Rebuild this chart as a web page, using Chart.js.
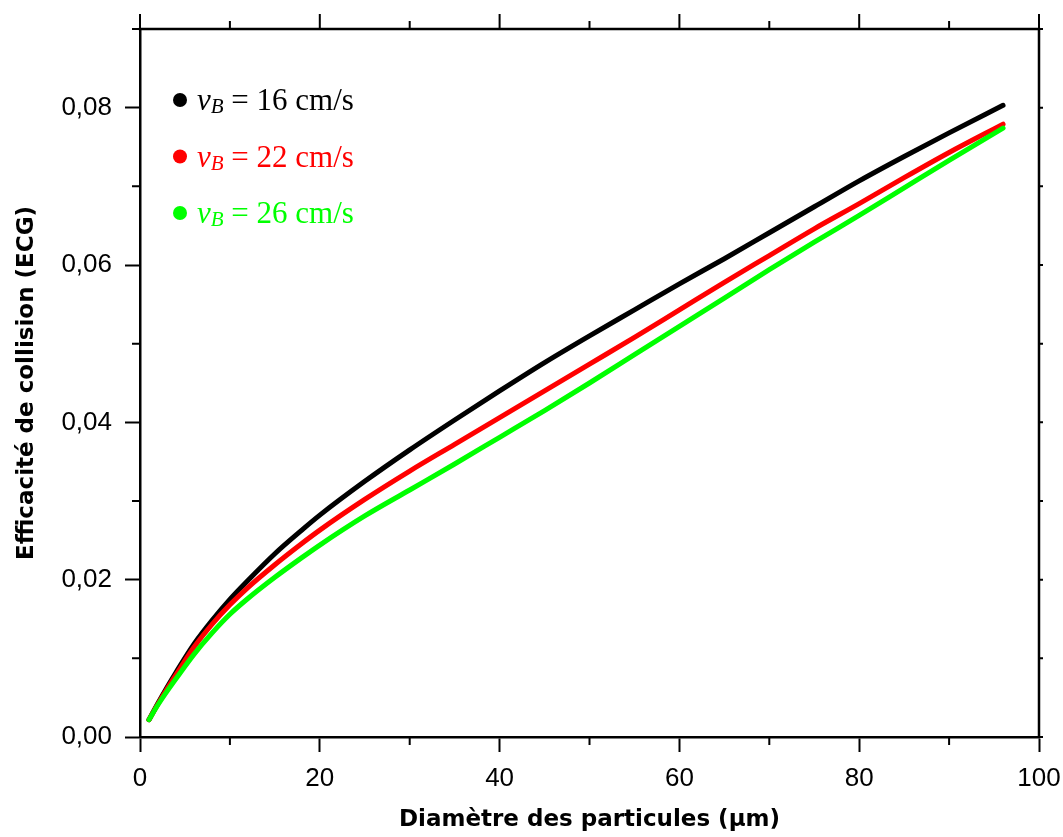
<!DOCTYPE html>
<html>
<head>
<meta charset="utf-8">
<script src="https://cdn.jsdelivr.net/npm/chart.js@4.4.1/dist/chart.umd.min.js"></script>
<style>
  html, body { margin: 0; padding: 0; background: #ffffff; }
  #wrap { width: 1063px; height: 837px; }
</style>
</head>
<body>
<div id="wrap"><canvas id="c" width="1063" height="837"></canvas></div>
<script>
// Particle diameter (µm)
const diameters = [1, 2, 3, 4, 6, 8, 10, 12, 15, 18, 20, 25, 30, 35, 40, 45, 50, 55, 60, 65, 70, 75, 80, 85, 90, 96];
// Collision efficiency for bubble velocity 16, 22 and 26 cm/s
const ecg16 = [0.0022, 0.0043, 0.0063, 0.0082, 0.0118, 0.0148, 0.0175, 0.0199, 0.0233, 0.0263, 0.0282, 0.0325, 0.0365, 0.0403, 0.0440, 0.0476, 0.0510, 0.0543, 0.0576, 0.0608, 0.0641, 0.0674, 0.0707, 0.0738, 0.0768, 0.0803];
const ecg22 = [0.0022, 0.0042, 0.0061, 0.0079, 0.0114, 0.0143, 0.0168, 0.0190, 0.0219, 0.0246, 0.0263, 0.0302, 0.0338, 0.0372, 0.0406, 0.0440, 0.0474, 0.0508, 0.0543, 0.0578, 0.0612, 0.0646, 0.0678, 0.0711, 0.0743, 0.0779];
const ecg26 = [0.0022, 0.0041, 0.0058, 0.0074, 0.0105, 0.0132, 0.0156, 0.0176, 0.0203, 0.0228, 0.0244, 0.0281, 0.0314, 0.0347, 0.0381, 0.0415, 0.0450, 0.0486, 0.0522, 0.0558, 0.0594, 0.0629, 0.0663, 0.0698, 0.0733, 0.0774];
const speeds = [16, 22, 26];
const seriesColors = ['#000000', '#ff0000', '#00ff00'];

// Axis ticks
const xMajor = [0, 20, 40, 60, 80, 100];
const xMinor = [10, 30, 50, 70, 90];
const yMajor = [0, 0.02, 0.04, 0.06, 0.08];
const yMinor = [0.01, 0.03, 0.05, 0.07, 0.09];

const series = [ecg16, ecg22, ecg26];

const datasets = series.map((vals, i) => ({
  label: 'vB = ' + speeds[i] + ' cm/s',
  data: diameters.map((d, k) => ({ x: d, y: vals[k] })),
  borderColor: seriesColors[i],
  backgroundColor: seriesColors[i],
  borderWidth: 5,
  borderCapStyle: 'round',
  borderJoinStyle: 'round',
  pointRadius: 0,
  cubicInterpolationMode: 'monotone',
  fill: false,
  order: series.length - i
}));

// Frame on top/right, minor ticks, and the in-plot legend
const framePlugin = {
  id: 'frame',
  afterDraw(chart) {
    const { ctx, chartArea: a, scales: { x, y } } = chart;
    ctx.save();
    ctx.strokeStyle = '#000';
    ctx.lineCap = 'butt';
    // top and right frame lines
    ctx.lineWidth = 2.5;
    ctx.beginPath();
    ctx.moveTo(a.left - 1.25, a.top);
    ctx.lineTo(a.right + 1.25, a.top);
    ctx.moveTo(a.right, a.top);
    ctx.lineTo(a.right, a.bottom);
    ctx.stroke();

    ctx.lineWidth = 2;
    ctx.beginPath();
    // top ticks
    xMajor.forEach(v => { const px = x.getPixelForValue(v); ctx.moveTo(px, a.top); ctx.lineTo(px, a.top - 15); });
    xMinor.forEach(v => { const px = x.getPixelForValue(v); ctx.moveTo(px, a.top); ctx.lineTo(px, a.top - 8); });
    // bottom minor ticks
    xMinor.forEach(v => { const px = x.getPixelForValue(v); ctx.moveTo(px, a.bottom); ctx.lineTo(px, a.bottom + 8); });
    // left minor ticks
    yMinor.forEach(v => { const py = y.getPixelForValue(v); ctx.moveTo(a.left, py); ctx.lineTo(a.left - 8, py); });
    // right ticks
    yMajor.concat(yMinor).forEach(v => { const py = y.getPixelForValue(v); ctx.moveTo(a.right, py); ctx.lineTo(a.right + 4, py); });
    ctx.stroke();

    // legend
    const x0 = a.left + 40;
    const y0 = a.top + 71;
    const step = 56.5;
    chart.data.datasets.forEach((ds, i) => {
      const cy = y0 + i * step;
      const base = cy + 10;
      ctx.fillStyle = ds.borderColor;
      ctx.beginPath();
      ctx.arc(x0, cy, 7, 0, Math.PI * 2);
      ctx.fill();
      ctx.textBaseline = 'alphabetic';
      ctx.textAlign = 'left';
      let tx = x0 + 17;
      ctx.font = 'italic 31px "Liberation Serif"';
      ctx.fillText('v', tx, base);
      tx += ctx.measureText('v').width;
      ctx.font = 'italic 21px "Liberation Serif"';
      ctx.fillText('B', tx, base + 3);
      tx += ctx.measureText('B').width;
      ctx.font = '31px "Liberation Serif"';
      ctx.fillText(' = ' + speeds[i] + ' cm/s', tx, base);
    });
    ctx.restore();
  }
};

new Chart(document.getElementById('c'), {
  type: 'line',
  data: { datasets },
  plugins: [framePlugin],
  options: {
    responsive: false,
    animation: false,
    devicePixelRatio: 1,
    layout: { padding: { top: 29, right: 24, left: 0, bottom: 0 } },
    plugins: { legend: { display: false }, tooltip: { enabled: false } },
    scales: {
      x: {
        type: 'linear',
        position: 'bottom',
        min: 0,
        max: 100,
        afterBuildTicks: s => { s.ticks = xMajor.map(v => ({ value: v })); },
        afterFit: s => { s.height = 100; s.paddingLeft = 0; s.paddingRight = 0; },
        ticks: {
          color: '#000',
          font: { family: '"Liberation Sans", Arial, sans-serif', size: 26 },
          padding: 11,
          maxRotation: 0,
          autoSkip: false
        },
        grid: { drawOnChartArea: false, drawTicks: true, tickLength: 15, tickWidth: 2, tickColor: '#000' },
        border: { display: true, color: '#000', width: 2.5 },
        title: {
          display: true,
          text: 'Diamètre des particules (µm)',
          color: '#000',
          font: { family: '"DejaVu Sans", sans-serif', size: 23, weight: 'bold' },
          padding: { top: 0, bottom: 3 }
        }
      },
      y: {
        type: 'linear',
        position: 'left',
        min: 0,
        max: 0.09,
        afterBuildTicks: s => { s.ticks = yMajor.map(v => ({ value: v })); },
        afterFit: s => { s.width = 140; s.paddingTop = 0; s.paddingBottom = 0; },
        ticks: {
          color: '#000',
          font: { family: '"Liberation Sans", Arial, sans-serif', size: 26 },
          padding: 13,
          callback: v => v.toFixed(2).replace('.', ',')
        },
        grid: { drawOnChartArea: false, drawTicks: true, tickLength: 15, tickWidth: 2, tickColor: '#000' },
        border: { display: true, color: '#000', width: 2.5 },
        title: {
          display: true,
          text: 'Efficacité de collision (ECG)',
          color: '#000',
          font: { family: '"DejaVu Sans", sans-serif', size: 23, weight: 'bold' },
          padding: { top: 13, bottom: 0 }
        }
      }
    }
  }
});
</script>
</body>
</html>
